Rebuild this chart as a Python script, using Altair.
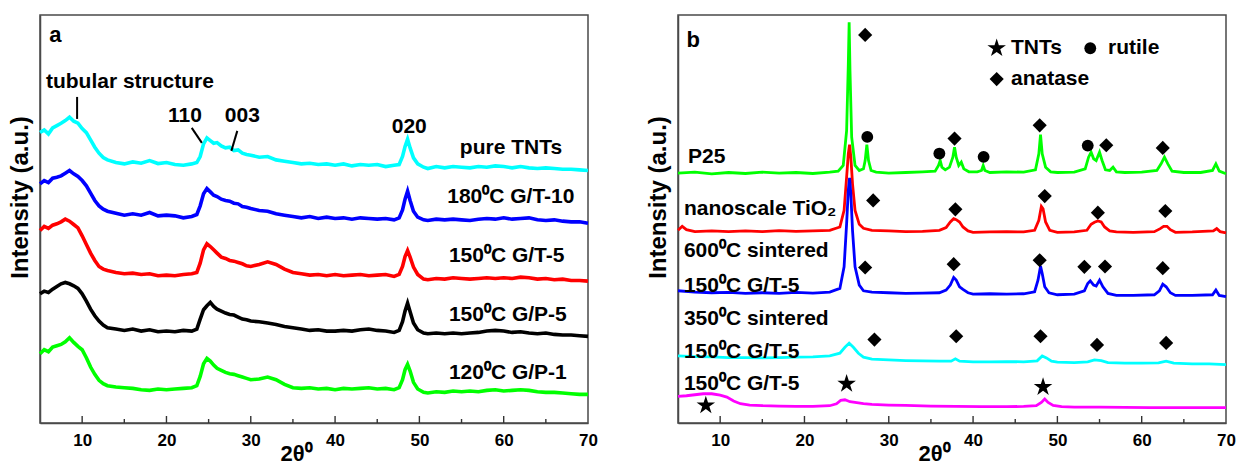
import altair as alt
import pandas as pd

FONT = "Liberation Sans"
FRAME = "#4a4a4a"
STAR = ("M0,-1L0.2245,-0.309L0.951,-0.309L0.363,0.118L0.588,0.809L0,0.382"
        "L-0.588,0.809L-0.363,0.118L-0.951,-0.309L-0.2245,-0.309Z")

# ---------------- Panel a (counts, arbitrary units) ----------------
xa = [5, 5.5, 6, 6.5, 7, 7.5, 8, 8.5, 9, 9.5, 10, 10.5, 11, 11.5, 12, 12.5, 13,
      14, 15, 16, 17, 18, 19, 20, 21, 22, 23,
      23.6, 24.0, 24.4, 24.8, 25.2, 25.6,
      26, 26.5, 27, 27.5, 28, 28.5, 29, 29.5, 30,
      31, 32, 33, 34, 35, 36, 37, 38, 39, 40, 41, 42, 43, 44, 45, 46, 47,
      47.6, 48.0, 48.3, 48.6, 48.9, 49.3, 49.8, 50.5,
      51, 52, 53, 54, 55, 56, 57, 58, 59, 60, 61, 62, 63, 64, 65, 66, 67, 68, 69, 70]

a_pure_tnts = [872, 880, 868, 886, 893, 900, 908, 918, 906, 900, 884, 872, 850, 828, 810, 797, 790,
               782, 778, 784, 780, 788, 779, 782, 776, 774, 778,
               782, 800, 838, 856, 848, 840,
               842, 832, 826, 828, 818, 820, 810, 806, 804,
               798, 800, 790, 786, 782, 778, 780, 776, 778, 774, 778, 772, 776, 774, 776, 770, 774,
               776, 800, 830, 852, 826, 796, 778, 768,
               764, 770, 766, 770, 768, 766, 770, 768, 772, 770, 766, 770, 766, 764, 766, 764, 762, 762, 760, 758]
a_180_gt10 = [718, 728, 722, 735, 738, 742, 750, 758, 748, 740, 728, 712, 690, 668, 652, 642, 636,
              630, 624, 628, 624, 632, 622, 624, 622, 616, 620,
              626, 652, 688, 704, 694, 684,
              680, 672, 668, 666, 660, 658, 650, 648, 644,
              638, 636, 628, 624, 620, 616, 620, 614, 618, 614, 616, 612, 616, 614, 612, 614, 610,
              616, 640, 672, 696, 668, 636, 618, 610,
              608, 612, 610, 612, 610, 608, 612, 614, 612, 616, 612, 614, 616, 610, 608, 610, 606, 604, 604, 600]
a_150_gt5 = [578, 590, 584, 594, 598, 604, 612, 606, 596, 586, 562, 536, 510, 488, 470, 462, 458,
             452, 448, 450, 446, 448, 442, 444, 442, 446, 448,
             452, 480, 520, 538, 530, 520,
             510, 498, 494, 488, 486, 482, 478, 472, 470,
             476, 484, 476, 462, 452, 448, 444, 446, 442, 446, 442, 444, 446, 442, 444, 446, 440,
             446, 470, 500, 518, 498, 468, 446, 432,
             430, 434, 432, 436, 434, 432, 434, 436, 434, 436, 434, 438, 436, 432, 434, 430, 432, 428, 428, 426]
a_150_gp5 = [388, 396, 392, 402, 410, 418, 422, 418, 412, 404, 388, 366, 342, 322, 306, 294, 286,
             282, 278, 282, 276, 280, 274, 276, 274, 278, 276,
             282, 312, 340, 352, 362, 350,
             342, 336, 330, 326, 324, 318, 312, 310, 306,
             304, 300, 296, 290, 286, 282, 278, 280, 276, 276, 278, 276, 280, 282, 278, 276, 272,
             278, 304, 336, 360, 334, 300, 280, 270,
             268, 270, 268, 270, 268, 270, 272, 276, 278, 276, 272, 274, 270, 268, 270, 266, 264, 264, 262, 260]
a_120_gp1 = [208, 220, 214, 228, 232, 236, 244, 256, 242, 230, 220, 196, 168, 146, 128, 118, 112,
             108, 106, 104, 100, 98, 102, 100, 102, 104, 106,
             112, 140, 178, 194, 186, 174,
             164, 158, 152, 148, 146, 142, 138, 134, 130,
             132, 138, 130, 116, 106, 104, 106, 102, 104, 100, 104, 102, 104, 106, 102, 104, 100,
             106, 130, 160, 176, 156, 122, 102, 92,
             90, 94, 92, 96, 94, 96, 94, 98, 100, 96, 98, 100, 98, 94, 92, 92, 90, 88, 86, 86]

a_series = [a_pure_tnts, a_180_gt10, a_150_gt5, a_150_gp5, a_120_gp1]
a_colors = ["#00ffff", "#0000ff", "#ff0000", "#000000", "#00ff00"]
a_labels = ["pure TNTs", "180\u2070C G/T-10", "150\u2070C G/T-5", "150\u2070C G/P-5", "120\u2070C G/P-1"]
a_label_x = [54.8, 53.3, 53.5, 53.5, 53.5]
a_label_y = [825, 680, 500, 325, 150]

a_notes = ["tubular structure", "110", "003", "020"]
a_notes_x = [5.7, 22.2, 29.0, 48.8]
a_notes_y = [1024, 922, 922, 890]
a_notes_align = ["left", "center", "center", "center"]
# annotation pointer segments: x, y -> x2, y2
a_seg_x = [9.4, 23.0, 28.4]
a_seg_y = [979, 886, 877]
a_seg_x2 = [9.4, 24.2, 27.7]
a_seg_y2 = [913, 841, 817]

# ---------------- Panel b ----------------
b_p25_x = [5, 7, 9, 11, 13, 15, 17, 19, 21, 23, 24, 24.6, 25.0, 25.2, 25.3, 25.4, 25.6, 26.0, 26.5, 27.0,
           27.2, 27.4, 27.6, 27.9, 28.5, 30, 32, 34, 35.5, 35.9, 36.1, 36.3, 36.7, 37.2, 37.6, 37.8, 38.0, 38.3, 38.6, 38.9,
           39.5, 40.5, 41.0, 41.2, 41.4, 42, 44, 46, 47.4, 47.8, 48.0, 48.2, 48.6, 49.2, 50, 52, 53.3, 53.7, 54.0, 54.3,
           54.6, 55.0, 55.3, 55.7, 56.2, 56.6, 57.0, 58, 60, 61.8, 62.3, 62.7, 63.1, 63.6, 65, 67, 68.4, 68.8, 69.2, 70]
b_p25_y = [752, 755, 750, 754, 751, 755, 752, 754, 751, 755, 758, 775, 880, 1080, 1206, 1060, 860, 775, 760, 765,
           790, 838, 790, 760, 755, 752, 754, 756, 758, 775, 790, 770, 762, 770, 800, 830, 800, 775, 785, 765,
           756, 756, 760, 775, 760, 754, 756, 755, 762, 810, 868, 810, 770, 756, 754, 755, 765, 800, 815, 795,
           790, 815, 790, 762, 760, 770, 756, 754, 755, 760, 780, 800, 780, 758, 754, 754, 760, 780, 758, 750]

b_nano_x = [5, 5.5, 6, 7, 9, 11, 13, 15, 17, 19, 21, 23, 24.2, 24.7, 25.0, 25.2, 25.35, 25.5, 25.7, 26.0,
            26.5, 27, 28, 30, 32, 34, 36, 36.8, 37.3, 37.7, 38.0, 38.4, 38.8, 39.4, 40, 42, 44, 46, 47.3, 47.8,
            48.1, 48.3, 48.6, 49.1, 50, 52, 53.5, 54.0, 54.4, 54.8, 55.2, 55.6, 56.2, 57, 59, 61.5, 62.2, 62.6, 63.0, 63.4,
            64, 66, 68.5, 68.9, 69.3, 70]
b_nano_y = [580, 592, 582, 576, 578, 576, 578, 576, 579, 577, 578, 580, 590, 640, 740, 810, 838, 800, 720, 640,
            598, 586, 580, 578, 576, 577, 580, 588, 605, 615, 612, 605, 590, 578, 574, 575, 576, 575, 580, 610,
            652, 645, 605, 580, 574, 575, 580, 598, 604, 608, 605, 590, 578, 575, 574, 576, 585, 592, 592, 582,
            574, 575, 578, 585, 576, 572]

b_600_x = [5, 7, 9, 11, 13, 15, 17, 19, 21, 23, 24.2, 24.7, 25.0, 25.2, 25.35, 25.5, 25.7, 26.0, 26.5, 27,
           28, 30, 32, 34, 36, 36.8, 37.3, 37.7, 38.0, 38.4, 38.8, 39.4, 40, 42, 44, 46, 47.3, 47.7, 48.0, 48.2,
           48.5, 49.0, 50, 52, 53.2, 53.6, 53.9, 54.3, 54.6, 55.0, 55.4, 56.0, 57, 59, 61.5, 62.1, 62.5, 62.9, 63.4, 64,
           66, 68.4, 68.8, 69.2, 70]
b_600_y = [398, 394, 392, 393, 390, 392, 390, 393, 391, 394, 405, 470, 600, 700, 738, 690, 580, 470, 415, 398,
           394, 392, 390, 391, 392, 400, 415, 438, 430, 410, 402, 392, 388, 389, 388, 389, 395, 430, 472, 450,
           410, 392, 386, 388, 398, 420, 428, 415, 412, 430, 410, 390, 384, 384, 386, 398, 418, 410, 392, 384,
           384, 386, 400, 384, 380]

b_350_x = [5, 7, 9, 11, 13, 15, 17, 19, 21, 23, 24.2, 24.8, 25.3, 25.8, 26.4, 27, 28, 30, 32, 34,
           36, 37.4, 37.9, 38.4, 40, 42, 44, 46, 47.6, 48.2, 48.7, 49.3, 50, 52, 53.6, 54.4, 55.2, 56, 58, 60,
           62, 62.9, 63.8, 66, 68, 70]
b_350_y = [202, 200, 199, 197, 197, 196, 197, 198, 199, 202, 210, 228, 240, 228, 210, 198, 192, 190, 188, 187,
           186, 186, 193, 186, 184, 184, 185, 184, 187, 202, 196, 186, 183, 182, 184, 190, 188, 182, 180, 180,
           181, 186, 180, 178, 178, 176]

b_tnt_x = [5, 6, 7, 8, 9, 10, 10.8, 11.6, 12.4, 13.5, 15, 17, 19, 21, 23, 23.8, 24.3, 24.8, 25.4, 26,
           27, 28, 30, 32, 35, 38, 41, 44, 46, 47.5, 48.1, 48.5, 48.9, 49.5, 50.5, 52, 55, 58, 61, 64,
           67, 70]
b_tnt_y = [80, 82, 85, 88, 88, 84, 78, 66, 58, 54, 52, 51, 50, 50, 52, 58, 68, 70, 64, 62,
           58, 56, 54, 53, 51, 50, 49, 49, 50, 52, 62, 72, 62, 53, 49, 48, 48, 47, 46, 46,
           46, 46]

# drawing order follows the reference (blue above red above green)
b_series = [(b_tnt_x, b_tnt_y, "#ff00ff"), (b_350_x, b_350_y, "#00ffff"),
            (b_p25_x, b_p25_y, "#00ff00"), (b_nano_x, b_nano_y, "#ff0000"),
            (b_600_x, b_600_y, "#0000ff")]

b_labels = ["P25", "nanoscale TiO\u2082", "600\u2070C sintered", "150\u2070C G/T-5",
            "350\u2070C sintered", "150\u2070C G/T-5", "150\u2070C G/T-5", "TNTs", "rutile", "anatase"]
b_label_x = [6.2, 5.7, 5.7, 5.7, 5.7, 5.7, 5.7, 44.5, 56.0, 44.5]
b_label_y = [801, 643, 518, 413, 313, 213, 118, 1128, 1128, 1035]

diamond_x = [27.2, 37.8, 47.9, 55.8, 62.5, 28.15, 37.9, 48.5, 54.8, 62.8,
             27.2, 37.7, 47.9, 53.2, 55.65, 62.5, 28.3, 38.0, 48.0, 54.7, 62.9, 42.8]
diamond_y = [1168, 856, 896, 836, 828, 670, 643, 683, 633, 638,
             468, 478, 490, 470, 471, 466, 251, 261, 261, 235, 241, 1035]
circle_x = [27.45, 36.0, 41.25, 53.6, 53.9]
circle_y = [861, 811, 801, 835, 1128]
star_x = [8.3, 25.0, 48.3, 42.8]
star_y = [53, 118, 108, 1128]

major_ticks = [10, 20, 30, 40, 50, 60]
minor_ticks = [15, 25, 35, 45, 55, 65]

# ---------------- helpers ----------------
W, H = 548, 408
xscale = alt.Scale(domain=[5, 70], nice=False, zero=False)


def enc_x(field="x"):
    return alt.X(f"{field}:Q", scale=xscale, axis=alt.Axis(
        values=[10, 20, 30, 40, 50, 60, 70], ticks=False, domain=True, domainColor=FRAME,
        domainWidth=1.5, grid=False,
        labelFontSize=17, labelFontWeight="bold", labelColor="black", labelPadding=9,
        labelFont=FONT, labelFlush=False,
        title="2\u03b8\u2070", titleFont=FONT, titleFontSize=22, titleFontWeight="bold",
        titleColor="black", titleX=256, titleY=37, titleBaseline="alphabetic"))


def enc_y(ymax, field="y"):
    return alt.Y(f"{field}:Q", scale=alt.Scale(domain=[0, ymax], nice=False, zero=False),
                 axis=alt.Axis(labels=False, ticks=False, domain=True, domainColor=FRAME,
                               domainWidth=1.5, grid=False,
                               title="Intensity (a.u.)", titleFont=FONT, titleFontSize=24,
                               titleFontWeight="bold", titleColor="black", titlePadding=8,
                               titleY=182))


def tick_layers():
    maj = alt.Chart(pd.DataFrame({"x": major_ticks})).mark_rule(color="#333", strokeWidth=1.4).encode(
        x=enc_x(), y=alt.value(H), y2=alt.value(H - 7))
    mnr = alt.Chart(pd.DataFrame({"x": minor_ticks})).mark_rule(color="#333", strokeWidth=1.4).encode(
        x=enc_x(), y=alt.value(H), y2=alt.value(H - 4))
    return [maj, mnr]


def text_layer(df, ymax, size=21, align="left"):
    return alt.Chart(df).mark_text(font=FONT, fontSize=size, fontWeight="bold", color="black",
                                   align=align, baseline="middle").encode(
        x=enc_x(), y=enc_y(ymax), text="t:N")


# ---------------- Panel a ----------------
YA = 1225
layers_a = []
for ys, col in zip(a_series, a_colors):
    assert len(ys) == len(xa)
    df = pd.DataFrame({"x": xa, "y": ys})
    layers_a.append(alt.Chart(df).mark_line(color=col, strokeWidth=3.6).encode(x=enc_x(), y=enc_y(YA)))
layers_a += tick_layers()
layers_a.append(text_layer(pd.DataFrame({"x": a_label_x, "y": a_label_y, "t": a_labels}), YA))
for al in ["left", "center"]:
    sub = [(x, y, t) for x, y, t, a in zip(a_notes_x, a_notes_y, a_notes, a_notes_align) if a == al]
    layers_a.append(text_layer(pd.DataFrame(sub, columns=["x", "y", "t"]), YA, align=al))
layers_a.append(alt.Chart(pd.DataFrame({"x": a_seg_x, "y": a_seg_y, "x2": a_seg_x2, "y2": a_seg_y2}))
                .mark_rule(color="black", strokeWidth=2).encode(x=enc_x(), y=enc_y(YA), x2="x2:Q", y2="y2:Q"))
layers_a.append(text_layer(pd.DataFrame({"x": [6.1], "y": [1165], "t": ["a"]}), YA, size=22))
panel_a = alt.layer(*layers_a).properties(width=W, height=H)

# ---------------- Panel b ----------------
YB = 1228
layers_b = []
for xs, ys, col in b_series:
    assert len(xs) == len(ys)
    df = pd.DataFrame({"x": xs, "y": ys})
    layers_b.append(alt.Chart(df).mark_line(color=col, strokeWidth=2.8).encode(x=enc_x(), y=enc_y(YB)))
layers_b += tick_layers()
layers_b.append(text_layer(pd.DataFrame({"x": b_label_x, "y": b_label_y, "t": b_labels}), YB))
layers_b.append(alt.Chart(pd.DataFrame({"x": diamond_x, "y": diamond_y})).mark_point(
    shape="diamond", filled=True, color="black", opacity=1, size=200).encode(x=enc_x(), y=enc_y(YB)))
layers_b.append(alt.Chart(pd.DataFrame({"x": circle_x, "y": circle_y})).mark_point(
    shape="circle", filled=True, color="black", opacity=1, size=140).encode(x=enc_x(), y=enc_y(YB)))
layers_b.append(alt.Chart(pd.DataFrame({"x": star_x, "y": star_y})).mark_point(
    shape=STAR, filled=True, color="black", opacity=1, size=380).encode(x=enc_x(), y=enc_y(YB)))
layers_b.append(text_layer(pd.DataFrame({"x": [6.0], "y": [1153], "t": ["b"]}), YB, size=22))
panel_b = alt.layer(*layers_b).properties(width=W, height=H)

chart = alt.hconcat(panel_a, panel_b, spacing=90, bounds="flush").properties(
    padding={"left": 7, "top": 14, "right": 0, "bottom": 0}
).configure_view(stroke=FRAME, strokeWidth=1.5)

chart.save("out.html", embed_options={"renderer": "svg", "actions": False})
